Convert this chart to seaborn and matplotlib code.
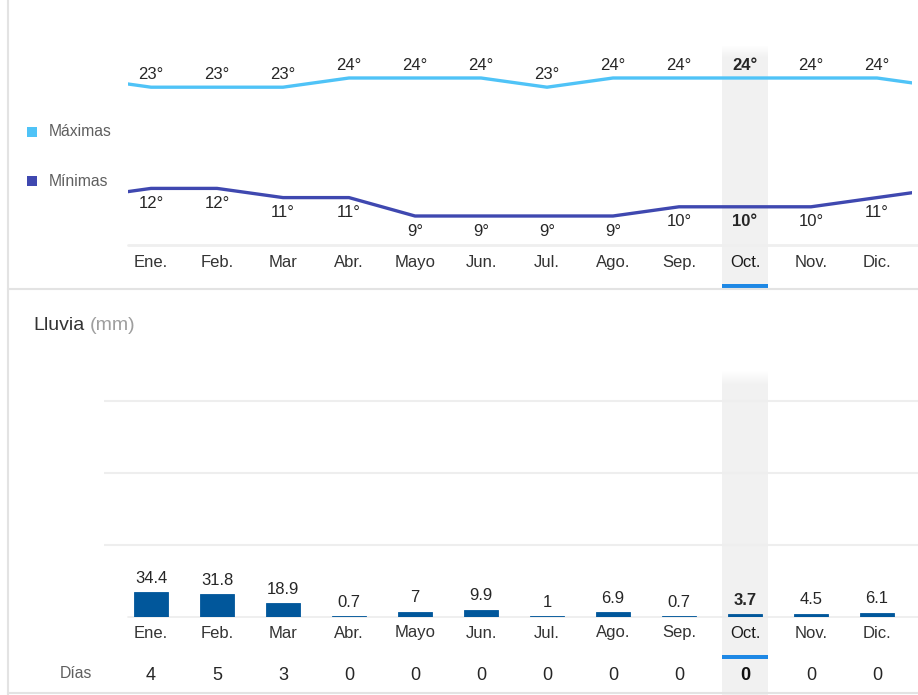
import matplotlib
matplotlib.use("Agg")
import matplotlib.pyplot as plt
from matplotlib.patches import Rectangle
from matplotlib.lines import Line2D
import seaborn as sns
import pandas as pd

# ---------------- data ----------------
meses = ["Ene.", "Feb.", "Mar", "Abr.", "Mayo", "Jun.", "Jul.", "Ago.", "Sep.", "Oct.", "Nov.", "Dic."]
maximas = [23, 23, 23, 24, 24, 24, 23, 24, 24, 24, 24, 24]
minimas = [12, 12, 11, 11, 9, 9, 9, 9, 10, 10, 10, 11]
lluvia = [34.4, 31.8, 18.9, 0.7, 7, 9.9, 1, 6.9, 0.7, 3.7, 4.5, 6.1]
dias = [4, 5, 3, 0, 0, 0, 0, 0, 0, 0, 0, 0]
mes_actual = 9  # Oct.

# ---------------- style ----------------
sns.set_theme(style="white")
plt.rcParams["font.family"] = ["Liberation Sans", "DejaVu Sans"]

W, H = 918, 695
fig = plt.figure(figsize=(W / 100, H / 100), dpi=100)


def rect(x0, y0, x1, y1):
    return [x0 / W, 1 - y1 / H, (x1 - x0) / W, (y1 - y0) / H]


C_MAX = "#4fc3f7"
C_MIN = "#3f48b0"
C_BAR = "#01579b"
C_HL = "#f1f1f1"
C_UL = "#1e88e5"
C_TXT = "#262626"
C_LBL = "#333333"
C_GRAY = "#5f5f5f"
C_SEP = "#e3e3e3"

# frame / separators
fig.add_artist(Line2D([8 / W, 8 / W], [0, 1], color=C_SEP, lw=1.5))
fig.add_artist(Line2D([8 / W, 1], [1 - 289 / H] * 2, color=C_SEP, lw=1.5))
fig.add_artist(Line2D([8 / W, 1], [1 - 693 / H] * 2, color=C_SEP, lw=1.5))

# ---------------- temperatures ----------------
top_y0, top_y1 = 45, 289
ax = fig.add_axes(rect(128, top_y0, 912, top_y1))
ax.set_axis_off()

pos = list(range(-1, 13))
df = pd.DataFrame({
    "pos": pos * 2,
    "temp": [maximas[-1]] + maximas + [maximas[0]] + [minimas[-1]] + minimas + [minimas[0]],
    "serie": ["Máximas"] * 14 + ["Mínimas"] * 14,
})
sns.lineplot(data=df, x="pos", y="temp", hue="serie",
             palette={"Máximas": C_MAX, "Mínimas": C_MIN},
             linewidth=2.4, legend=False, ax=ax, zorder=3)
ax.set_xlim((128 - 151) / 66, (912 - 151) / 66)
ax.set_ylim(24 - (289 - 78) / 9.2, 24 + (78 - 45) / 9.2)

ax.axvspan(mes_actual - 0.35, mes_actual + 0.35, color=C_HL, zorder=0, lw=0)
for k in range(12):
    ax.add_patch(Rectangle((mes_actual - 0.35, 1 - (k + 1) / 244), 0.7, 1 / 244,
                           transform=ax.get_xaxis_transform(), color="white",
                           alpha=1 - k / 12, lw=0, zorder=0.5))

ta = ax.get_xaxis_transform()
def fy(y):  # pixel -> axes fraction for top axes
    return (top_y1 - y) / (top_y1 - top_y0)

for i, v in enumerate(maximas):
    ax.annotate(f"{v}°", (i, v), xytext=(0, 13), textcoords="offset pixels",
                ha="center", va="center", fontsize=12, color=C_TXT,
                fontweight="bold" if i == mes_actual else "normal")
for i, v in enumerate(minimas):
    ax.annotate(f"{v}°", (i, v), xytext=(0, -15), textcoords="offset pixels",
                ha="center", va="center", fontsize=12, color=C_TXT,
                fontweight="bold" if i == mes_actual else "normal")
for i, m in enumerate(meses):
    ax.text(i, fy(263), m, transform=ta, ha="center", va="center", fontsize=12,
            color="#1a1a1a" if i == mes_actual else C_LBL)
ax.add_patch(Rectangle((mes_actual - 0.35, fy(288)), 0.7, 4 / 244, transform=ta,
                       color=C_UL, lw=0, clip_on=False, zorder=4))
fig.add_artist(Line2D([128 / W, 1], [1 - 245 / H] * 2, color="#efefef", lw=2))

# legend
fig.add_artist(Rectangle((27 / W, 1 - 137 / H), 10 / W, 10 / H, color=C_MAX, lw=0))
fig.text(49 / W, 1 - 132 / H, "Máximas", ha="left", va="center", fontsize=11.3, color=C_GRAY)
fig.add_artist(Rectangle((27 / W, 1 - 186 / H), 10 / W, 10 / H, color=C_MIN, lw=0))
fig.text(49 / W, 1 - 181 / H, "Mínimas", ha="left", va="center", fontsize=11.3, color=C_GRAY)

# ---------------- rain ----------------
bot_y0, bot_y1 = 370, 617
bx = fig.add_axes(rect(104, bot_y0, 918, bot_y1))
px_per_mm = 0.72
sns.barplot(x=meses, y=lluvia, color=C_BAR, width=34 / 66, saturation=1,
            edgecolor=C_BAR, linewidth=0.6, ax=bx, zorder=3)
bx.set_xlim((104 - 151) / 66, (918 - 151) / 66)
bx.set_ylim(0, (bot_y1 - bot_y0) / px_per_mm)
bx.set_yticks([100, 200, 300])
bx.grid(axis="y", color="#eeeeee", lw=1.5)
bx.grid(axis="x", visible=False)
bx.tick_params(left=False, bottom=False, labelleft=False, labelbottom=False)
for s in bx.spines.values():
    s.set_visible(False)
bx.set_xlabel("")
bx.set_ylabel("")
bx.plot([(128 - 151) / 66, 12], [0, 0], color="#ececec", lw=1.2, zorder=2, clip_on=False)

bt = bx.get_xaxis_transform()
def by(y):
    return (bot_y1 - y) / (bot_y1 - bot_y0)

bx.add_patch(Rectangle((mes_actual - 0.35, by(695)), 0.7, by(bot_y0) - by(695),
                       transform=bt, color=C_HL, lw=0, clip_on=False, zorder=0))
for k in range(15):
    bx.add_patch(Rectangle((mes_actual - 0.35, 1 - (k + 1) / 247), 0.7, 1 / 247,
                           transform=bt, color="white", alpha=1 - k / 15, lw=0, zorder=0.5))

for i, v in enumerate(lluvia):
    bx.annotate(f"{v:g}", (i, v), xytext=(0, 14), textcoords="offset pixels",
                ha="center", va="center", fontsize=12, color=C_TXT, zorder=5,
                fontweight="bold" if i == mes_actual else "normal")
for i, m in enumerate(meses):
    bx.text(i, by(633), m, transform=bt, ha="center", va="center", fontsize=12,
            color="#1a1a1a" if i == mes_actual else C_LBL)
for i, d in enumerate(dias):
    bx.text(i, by(675), str(d), transform=bt, ha="center", va="center", fontsize=13,
            color="#111111" if i == mes_actual else C_TXT,
            fontweight="bold" if i == mes_actual else "normal")
bx.add_patch(Rectangle((mes_actual - 0.35, by(659)), 0.7, 4 / 247, transform=bt,
                       color=C_UL, lw=0, clip_on=False, zorder=4))

fig.text(76 / W, 1 - 673 / H, "Días", ha="center", va="center", fontsize=11.3, color=C_GRAY)
fig.text(33 / W, 1 - 326 / H, "Lluvia", ha="left", va="center", fontsize=14, color="#333333")
fig.text(90 / W, 1 - 326 / H, "(mm)", ha="left", va="center", fontsize=14, color="#9e9e9e")

fig.savefig("out.png", dpi=100)
